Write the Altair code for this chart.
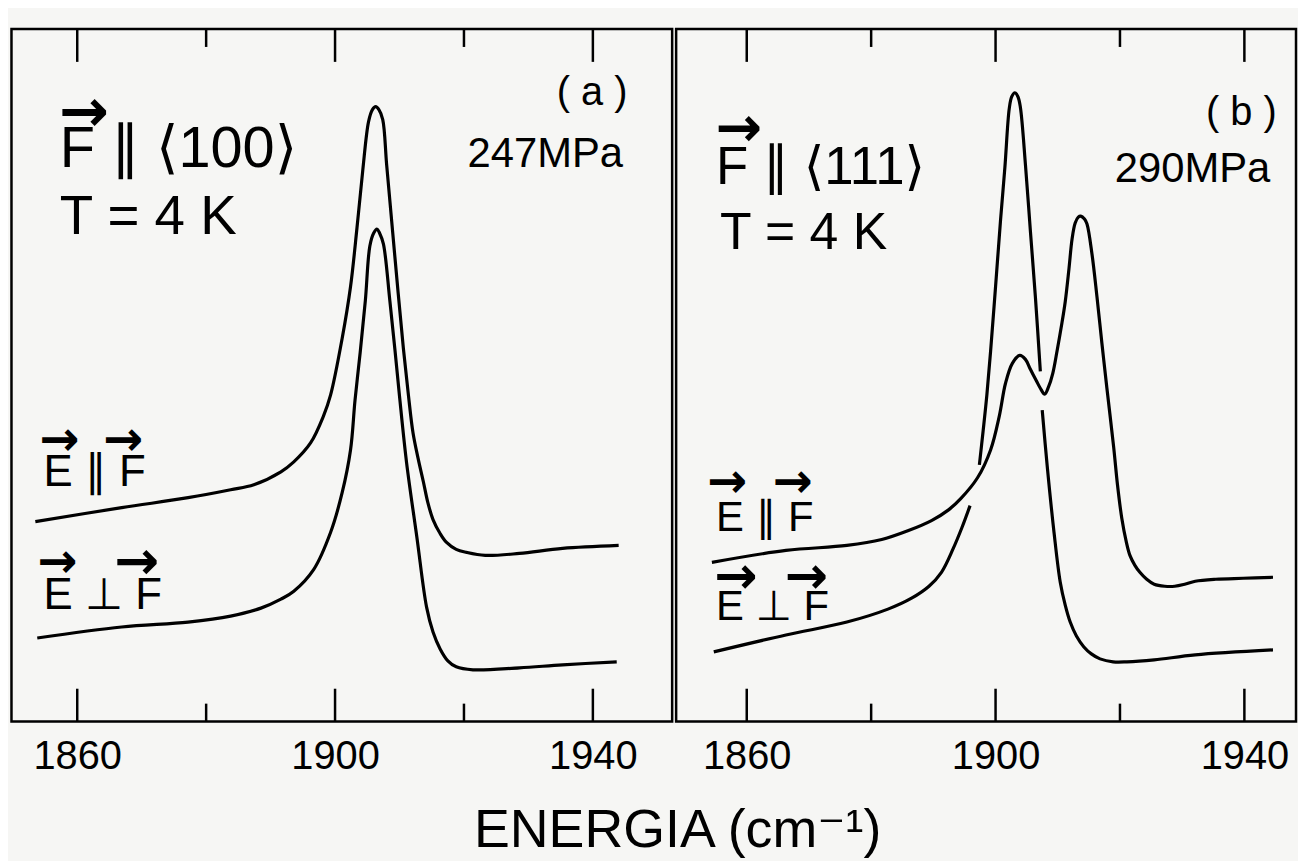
import altair as alt
import pandas as pd

FONT = "Liberation Sans, DejaVu Sans, sans-serif"
ARROW_FONT = "DejaVu Sans"

# ---------------- data ----------------
# energies in cm^-1, absorbance in arbitrary units
# Panel (a): F || <100>, 247 MPa
a_par_E = [1853.5, 1866.9, 1877.2, 1883.8, 1887.4, 1891.6, 1893.6, 1896.2, 1898.2, 1899.3,
           1901.1, 1902.4, 1903.4, 1904.3, 1905.2, 1905.8, 1906.3, 1906.8, 1907.4, 1908.0,
           1908.8, 1909.8, 1910.6, 1911.4, 1912.1, 1912.9, 1913.7, 1914.4, 1915.2, 1916.3,
           1917.3, 1918.8, 1920.4, 1923.3, 1928.6, 1935.3, 1944.0]
a_par_A = [20.1, 21.5, 22.5, 23.3, 23.8, 25.1, 26.1, 28.0, 30.7, 32.8,
           38.5, 43.7, 49.6, 55.4, 60.3, 61.5, 61.8, 61.5, 60.5, 56.0,
           50.2, 43.0, 37.5, 32.7, 29.0, 26.4, 24.1, 22.0, 20.3, 18.9,
           18.0, 17.3, 17.0, 16.7, 16.9, 17.4, 17.7]

a_perp_E = [1853.8, 1866.9, 1877.2, 1883.8, 1888.5, 1891.6, 1893.6, 1896.7, 1899.3, 1901.1,
            1902.4, 1903.1, 1903.9, 1904.7, 1905.4, 1906.0, 1906.5, 1906.9, 1907.5, 1908.5,
            1909.3, 1910.0, 1911.1, 1912.7, 1914.2, 1915.2, 1916.3, 1917.5, 1918.8, 1921.4,
            1928.6, 1935.3, 1943.7]
a_perp_A = [8.4, 9.5, 10.0, 10.6, 11.4, 12.3, 13.1, 15.3, 19.0, 23.0,
            27.3, 32.3, 37.1, 42.3, 47.8, 49.1, 49.5, 49.1, 48.0, 42.3,
            37.3, 32.7, 26.0, 18.5, 11.5, 9.0, 7.3, 6.1, 5.5, 5.2,
            5.4, 5.7, 6.0]

# Panel (b): F || <111>, 290 MPa
b_par_E = [1854.4, 1866.3, 1876.1, 1881.7, 1886.0, 1889.7, 1892.5, 1894.4, 1897.1, 1899.2,
           1900.6, 1901.6, 1902.7, 1903.9, 1904.8, 1905.6, 1906.6, 1907.2, 1907.9, 1908.5,
           1909.2, 1909.9, 1910.6, 1911.2, 1911.8, 1912.3, 1912.8, 1913.3, 1913.7, 1914.3,
           1914.7, 1915.5, 1916.3, 1917.1, 1917.9, 1919.0, 1919.6, 1920.3, 1921.0, 1921.6,
           1922.4, 1923.2, 1924.3, 1925.5, 1927.2, 1928.8, 1930.4, 1932.1, 1935.4, 1939.8,
           1944.6]
b_par_A = [16.0, 17.2, 17.7, 18.3, 19.2, 20.2, 21.3, 22.4, 24.5, 27.3,
           30.7, 34.0, 36.0, 36.8, 36.4, 35.4, 34.2, 33.5, 32.9, 33.6,
           35.0, 37.3, 39.8, 42.2, 45.5, 48.5, 50.1, 50.7, 50.8, 50.5,
           50.0, 47.0, 42.7, 38.0, 33.5, 27.5, 23.8, 20.4, 18.1, 16.7,
           15.7, 15.0, 14.3, 13.8, 13.6, 13.6, 13.8, 14.1, 14.3, 14.4,
           14.5]

b_perp_E = [1854.7, 1866.3, 1876.1, 1882.7, 1886.5, 1889.3, 1891.3, 1893.2, 1894.6, 1895.9,
            1897.4, 1898.0, 1898.6, 1899.2, 1900.0, 1900.8, 1901.5, 1902.2, 1902.6, 1903.1,
            1903.6, 1904.0, 1904.8, 1905.6, 1906.4, 1907.2,
            1907.5, 1908.3, 1909.4, 1910.4, 1911.2, 1912.0, 1913.0, 1914.2, 1915.4, 1916.8,
            1918.9, 1921.1, 1925.5, 1932.1, 1944.6]
b_perp_A = [7.0, 8.7, 10.0, 11.3, 12.4, 13.6, 15.0, 17.4, 19.5, 21.7,
            25.8, 29.2, 32.8, 37.2, 43.7, 50.4, 55.7, 61.6, 62.8, 63.2,
            62.8, 61.7, 56.0, 49.3, 42.7, 35.2,
            31.3, 25.7, 19.0, 14.0, 11.7, 10.0, 8.6, 7.5, 6.8, 6.3,
            6.0, 6.0, 6.2, 6.7, 7.2]
# the drawn line is interrupted where it crosses the other trace
b_perp_seg = [1] * 10 + [2] * 16 + [3] * 15

major_ticks = [1860, 1900, 1940]
minor_ticks = [1880, 1920]

H = 696
A_MAX = 69.6


def curves(parts):
    rows = []
    for name, E, A, seg in parts:
        for i, (e, a) in enumerate(zip(E, A)):
            rows.append({"E": e, "A": a, "seg": f"{name}-{seg[i] if seg else 1}"})
    return pd.DataFrame(rows)


def text_layer(txt, x, y, size, align="left", baseline="alphabetic", font=FONT, weight="normal"):
    return alt.Chart(alt.Data(values=[{"t": txt}])).mark_text(
        font=font, fontSize=size, color="black", align=align, baseline=baseline,
        fontWeight=weight
    ).encode(text="t:N", x=alt.value(x), y=alt.value(y))


def arrow(x, y, size=48):
    return text_layer("→", x, y, size, "center", "middle", ARROW_FONT, "bold")


def panel(df, domain, width, texts, arrows):
    xenc = alt.X("E:Q", scale=alt.Scale(domain=domain, nice=False, zero=False),
                 axis=alt.Axis(values=major_ticks, ticks=False, domain=False, grid=False,
                               labelFontSize=40, labelPadding=15, labelFont=FONT,
                               labelColor="black", title=None, labelFlush=False,
                               format="d"))
    yenc = alt.Y("A:Q", scale=alt.Scale(domain=[0, A_MAX], nice=False, zero=False), axis=None)
    lines = alt.Chart(df).mark_line(color="black", strokeWidth=3.2, interpolate="catmull-rom",
                                    clip=True).encode(x=xenc, y=yenc, detail="seg:N")
    maj = alt.Chart(pd.DataFrame({"E": major_ticks}))
    mnr = alt.Chart(pd.DataFrame({"E": minor_ticks}))
    rule = dict(color="black", strokeWidth=2.5)
    ticks = [
        maj.mark_rule(**rule).encode(x="E:Q", y=alt.value(H), y2=alt.value(H - 33)),
        mnr.mark_rule(**rule).encode(x="E:Q", y=alt.value(H), y2=alt.value(H - 18)),
        maj.mark_rule(**rule).encode(x="E:Q", y=alt.value(0), y2=alt.value(33)),
        mnr.mark_rule(**rule).encode(x="E:Q", y=alt.value(0), y2=alt.value(18)),
    ]
    layers = [lines] + ticks + [text_layer(*t) for t in texts] + [arrow(*a) for a in arrows]
    return alt.layer(*layers).properties(width=width, height=H)


df_a = curves([("par", a_par_E, a_par_A, None), ("perp", a_perp_E, a_perp_A, None)])
df_b = curves([("par", b_par_E, b_par_A, None), ("perp", b_perp_E, b_perp_A, b_perp_seg)])

texts_a = [
    ("( a )", 583.5, 76, 40, "center"),
    ("247MPa", 536.5, 139, 42, "center"),
    ("F ∥ ⟨100⟩", 48.5, 139, 58),
    ("T = 4 K", 48.5, 206, 55),
    ("E ∥ F", 32.2, 459, 44),
    ("E ⊥ F", 32.2, 583, 44),
]
arrows_a = [(73, 84, 60), (48, 414), (112, 414), (46, 537), (126, 537, 54)]

texts_b = [
    ("( b )", 568, 96, 40, "center"),
    ("290MPa", 519, 154, 42, "center"),
    ("F ∥ ⟨111⟩", 40, 156, 53),
    ("T = 4 K", 44, 221, 52),
    ("E ∥ F", 40, 504, 42),
    ("E ⊥ F", 40, 594, 42),
]
arrows_b = [(63, 101, 56), (51, 456), (117, 456), (60, 551, 52), (131, 551, 52)]

pa = panel(df_a, [1849.8, 1952.3], 664, texts_a, arrows_a)
pb = panel(df_b, [1848.65, 1948.3], 623, texts_b, arrows_b)

chart = alt.hconcat(pa, pb, spacing=0).properties(
    title=alt.TitleParams("ENERGIA (cm⁻¹)", orient="bottom", anchor="middle", fontSize=54,
                          font=FONT, fontWeight="normal", color="black", offset=27, dx=24),
    padding={"left": 1.5, "top": 16, "right": 0, "bottom": 0},
    background="#f6f6f4",
).configure_view(stroke="black", strokeWidth=2.5)

chart.save("out.html", embed_options={"renderer": "svg", "actions": False})
